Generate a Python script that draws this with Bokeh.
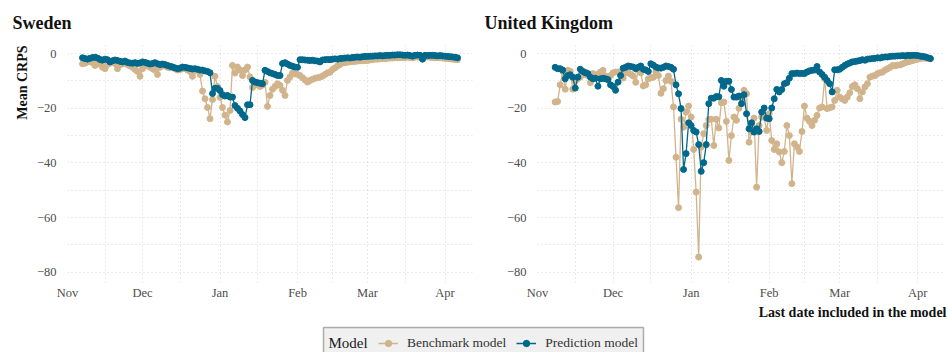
import pandas as pd
from bokeh.plotting import figure
from bokeh.layouts import column, row
from bokeh.models import (FixedTicker, DatetimeTickFormatter, Range1d, Title,
                          Legend, LegendItem, ColumnDataSource, BoxAnnotation,
                          Label)
from bokeh.embed import file_html
from bokeh.resources import INLINE

FONT = "Liberation Serif"
BENCH_COLOR = "#d2b48c"
PRED_COLOR = "#00688b"
INK = "#111111"

# ---- data: mean CRPS by last date included in the model ----
sweden_start = "2020-11-07"
sweden_benchmark = [
    -3.7, -3.5, -3.0, -2.8, -3.3, -4.3, -3.8, -3.2, -5.0, -5.5,
    -4.0, -3.5, -3.0, -3.6, -5.5, -4.0, -3.8, -3.2, -4.0, -4.5,
    -5.0, -5.8, -6.5, -8.3, -5.5, -4.5, -4.0, -5.0, -5.5, -6.0,
    -7.6, -5.0, -4.2, -4.5, -5.0, -5.2, -4.8, -5.5, -6.0, -5.8,
    -5.5, -5.4, -6.0, -6.5, -8.3, -6.2, -5.8, -7.6, -13.7, -16.5,
    -19.7, -23.8, -16.8, -8.3, -12.0, -16.0, -19.7, -22.5, -25.0, -20.8,
    -4.3, -7.1, -4.9, -6.0, -8.0, -6.0, -4.9, -8.5, -12.4, -11.5,
    -11.0, -12.0, -11.5, -10.5, -19.3, -15.3, -13.0, -12.0, -11.0, -11.6,
    -13.4, -15.3, -9.8, -8.5, -7.1, -7.4, -7.6, -8.0, -8.8, -9.6,
    -10.4, -9.8, -9.4, -9.0, -8.8, -8.6, -8.2, -7.6, -7.0, -6.8,
    -5.8, -5.2, -4.5, -4.0, -3.4, -3.3, -3.1, -3.0, -2.9, -2.8,
    -2.7, -2.6, -2.6, -2.5, -2.5, -2.3, -2.2, -2.0, -2.0, -1.9,
    -1.8, -1.8, -1.7, -1.6, -1.6, -1.5, -1.5, -1.5, -1.4, -1.4,
    -1.3, -1.4, -1.5, -1.3, -1.2, -1.3, -1.4, -1.3, -1.2, -1.3,
    -1.4, -1.5, -1.4, -1.5, -1.6, -1.7, -1.8, -1.9, -2.0, -2.1,
    -2.2,
]
sweden_prediction = [
    -1.5, -1.8, -2.0, -1.7, -1.4, -1.3, -1.6, -2.1, -2.4, -2.0,
    -2.2, -3.0, -2.6, -2.3, -2.5, -2.8, -3.0, -2.7, -3.2, -3.4,
    -3.5, -3.3, -3.6, -3.4, -3.0, -3.2, -3.5, -3.8, -3.6, -3.3,
    -3.7, -4.0, -3.8, -4.0, -4.3, -4.6, -4.9, -5.2, -5.5, -5.3,
    -4.9, -5.0, -5.2, -5.4, -5.6, -5.5, -5.7, -6.0, -6.0, -6.3,
    -6.5, -7.0, -14.6, -12.7, -12.7, -13.5, -15.0, -15.5, -15.3, -15.9,
    -15.9, -19.0, -20.0, -21.0, -22.3, -23.4, -18.7, -18.7, -9.8, -10.4,
    -10.6, -10.8, -11.0, -6.1, -6.5, -7.0, -7.3, -7.6, -8.0, -8.0,
    -3.6, -3.3, -3.8, -4.3, -4.6, -4.9, -5.0, -2.2, -2.2, -2.3,
    -2.4, -2.5, -2.4, -2.6, -2.7, -3.0, -2.3, -2.2, -2.1, -2.2,
    -2.0, -1.9, -2.0, -1.8, -1.7, -1.6, -1.5, -1.6, -1.4, -1.3,
    -1.2, -1.3, -1.1, -1.0, -1.0, -0.9, -0.9, -0.8, -0.8, -0.7,
    -0.8, -0.7, -0.6, -0.6, -0.5, -0.5, -0.4, -0.4, -0.5, -0.6,
    -0.5, -0.7, -0.9, -0.6, -0.5, -0.6, -2.0, -0.6, -0.7, -0.6,
    -0.6, -0.7, -0.8, -0.7, -0.8, -0.9, -1.0, -1.1, -1.2, -1.3,
    -1.5,
]

uk_start = "2020-11-08"
uk_benchmark = [
    -17.7, -17.5, -11.4, -6.5, -13.0, -6.1, -6.5, -13.0, -10.1, -9.2,
    -8.5, -7.7, -6.7, -8.0, -10.6, -7.3, -8.2, -7.5, -6.7, -6.1,
    -8.2, -8.6, -8.0, -7.0, -6.7, -6.7, -7.5, -8.9, -7.0, -7.0,
    -7.5, -8.2, -10.5, -6.1, -7.0, -11.8, -11.4, -9.2, -8.8, -8.6,
    -6.7, -8.0, -14.5, -12.8, -9.8, -8.2, -10.1, -19.5, -37.9, -56.4,
    -24.0, -26.9, -21.4, -19.2, -23.2, -35.1, -50.7, -74.5, -34.2, -29.3,
    -26.3, -24.1, -24.0, -33.6, -24.0, -27.2, -18.0, -17.7, -24.8, -39.1,
    -30.0, -23.2, -24.4, -20.0, -16.5, -13.4, -14.7, -32.4, -28.7, -23.6,
    -48.9, -26.3, -23.2, -23.3, -28.1, -22.0, -31.8, -35.1, -33.0, -36.0,
    -39.9, -35.8, -26.3, -30.0, -47.6, -33.0, -34.2, -35.8, -28.5, -19.2,
    -23.6, -24.8, -26.3, -24.4, -22.6, -19.9, -19.5, -9.2, -20.1, -19.8,
    -19.5, -17.1, -13.4, -15.9, -16.5, -17.1, -15.9, -14.3, -12.0, -11.4,
    -12.8, -16.5, -14.0, -12.2, -11.0, -8.6, -8.2, -8.0, -7.3, -7.0,
    -6.7, -6.0, -5.5, -5.0, -4.3, -4.4, -4.2, -4.1, -3.7, -3.3,
    -3.0, -2.8, -2.5, -2.2, -2.0, -1.8, -1.6, -1.7, -1.7, -1.8,
]
uk_prediction = [
    -5.0, -5.5, -5.5, -6.0, -9.2, -8.0, -7.7, -8.6, -12.6, -8.6,
    -5.7, -6.5, -7.0, -7.3, -8.6, -9.2, -9.0, -11.9, -9.2, -9.0,
    -9.2, -9.5, -11.4, -12.0, -13.4, -10.4, -8.0, -5.3, -5.0, -4.5,
    -4.7, -4.9, -5.5, -5.0, -4.5, -5.7, -6.0, -6.5, -3.7, -4.2,
    -4.9, -5.2, -5.3, -5.0, -4.5, -4.7, -5.0, -5.7, -11.4, -14.7,
    -20.1, -42.4, -36.6, -25.3, -26.3, -28.1, -28.7, -33.3, -43.1, -39.9,
    -33.3, -18.3, -16.3, -16.3, -15.7, -15.8, -9.8, -11.9, -10.1, -10.1,
    -13.1, -15.9, -15.9, -15.5, -18.3, -15.0, -22.0, -27.5, -25.3, -28.7,
    -27.5, -28.5, -21.4, -19.9, -23.6, -23.8, -19.9, -16.5, -13.1, -14.0,
    -13.1, -11.0, -10.6, -9.0, -7.3, -7.3, -7.1, -7.3, -7.2, -7.3,
    -6.7, -6.3, -6.1, -6.0, -4.7, -6.7, -7.6, -8.6, -9.8, -11.0,
    -14.0, -5.9, -5.9, -5.7, -5.0, -4.3, -3.8, -3.4, -3.0, -2.9,
    -2.7, -2.5, -2.2, -2.4, -2.0, -1.9, -1.8, -1.7, -1.5, -1.6,
    -1.3, -1.2, -1.2, -1.0, -0.9, -0.9, -0.8, -0.8, -0.7, -0.8,
    -0.6, -0.7, -0.6, -0.6, -0.7, -0.9, -1.0, -1.2, -1.5, -1.8,
]

month_starts = ["2020-11-01", "2020-12-01", "2021-01-01", "2021-02-01",
                "2021-03-01", "2021-04-01"]
month_mids = ["2020-11-16", "2020-12-16", "2021-01-16", "2021-02-15",
              "2021-03-16"]
x_limits = ["2020-11-01", "2021-04-12"]
y_ticks = [-80, -60, -40, -20, 0]
y_minor = [-70, -50, -30, -10]
y_limits = [-83.8, 3.0]


def ms(d):
    return int(pd.Timestamp(d).value // 10**6)


def strip(height):
    """A blank full-width strip where one data unit equals one pixel."""
    s = figure(width=948, height=height, output_backend="svg",
               toolbar_location=None, title_location=None,
               x_range=Range1d(0, 948), y_range=Range1d(0, height),
               x_axis_location=None, y_axis_location=None, min_border=0)
    s.outline_line_color = None
    s.grid.visible = False
    return s


def panel(start, bench, pred, left, right):
    p = figure(width=474, height=264, x_axis_type="datetime",
               x_range=Range1d(ms(x_limits[0]), ms(x_limits[1])),
               y_range=Range1d(*y_limits), title_location=None,
               output_backend="svg", toolbar_location=None,
               min_border_left=left, min_border_right=right,
               min_border_top=5, min_border_bottom=22)
    p.outline_line_color = None

    p.xaxis.ticker = FixedTicker(ticks=[ms(d) for d in month_starts],
                                 minor_ticks=[ms(d) for d in month_mids])
    fmt = "%b"
    p.xaxis.formatter = DatetimeTickFormatter(
        milliseconds=fmt, seconds=fmt, minsec=fmt, minutes=fmt, hourmin=fmt,
        hours=fmt, days=fmt, months=fmt, years=fmt)
    p.yaxis.ticker = FixedTicker(ticks=y_ticks, minor_ticks=y_minor)
    p.yaxis.major_label_overrides = {
        v: (str(v).replace("-", "\u2212")) for v in y_ticks}

    for ax in (p.xaxis, p.yaxis):
        ax.axis_line_color = None
        ax.major_tick_line_color = None
        ax.minor_tick_line_color = None
        ax.major_label_text_font = FONT
        ax.major_label_text_font_size = "12.5px"
        ax.major_label_text_color = "#4d4d4d"
        ax.major_label_standoff = 5
    p.xaxis.major_label_standoff = -3

    for g in (p.xgrid, p.ygrid):
        g.grid_line_color = "#d4d4d4"
        g.grid_line_dash = "1 3"
        g.grid_line_width = 1
        g.minor_grid_line_color = "#d4d4d4"
        g.minor_grid_line_dash = "1 3"
        g.minor_grid_line_width = 1

    src_b = ColumnDataSource(dict(
        x=pd.date_range(start, periods=len(bench), freq="D"), y=bench))
    src_p = ColumnDataSource(dict(
        x=pd.date_range(start, periods=len(pred), freq="D"), y=pred))
    p.line("x", "y", source=src_b, color=BENCH_COLOR, line_width=1.3)
    p.scatter("x", "y", source=src_b, color=BENCH_COLOR, size=6)
    p.line("x", "y", source=src_p, color=PRED_COLOR, line_width=1.3)
    p.scatter("x", "y", source=src_p, color=PRED_COLOR, size=6)
    return p


# ---- panel titles ----
top = strip(40)
for x, name in [(12, "Sweden"), (484, "United Kingdom")]:
    top.add_layout(Label(x=x, y=18, text=name, text_baseline="middle",
                         text_font=FONT, text_font_size="18px",
                         text_font_style="bold", text_color=INK))

# ---- panels ----
p_se = panel(sweden_start, sweden_benchmark, sweden_prediction, 67, 2)
p_se.add_layout(Title(text="Mean CRPS", align="right", offset=0,
                      text_font=FONT, text_font_size="14px",
                      text_font_style="bold", text_color=INK,
                      standoff=8), "left")
p_uk = panel(uk_start, uk_benchmark, uk_prediction, 63, 3)

# ---- x label and shared legend ----
bottom = strip(48)
bottom.add_layout(Label(x=946, y=40, text="Last date included in the model",
                        text_align="right", text_baseline="middle",
                        text_font=FONT, text_font_size="14px",
                        text_font_style="bold", text_color=INK))
bottom.add_layout(BoxAnnotation(left=323, right=643, bottom=-6, top=25,
                                fill_color="#f0f0f0", fill_alpha=1,
                                line_color="black", line_width=1.5))
bottom.add_layout(Label(x=328, y=10, text="Model", text_baseline="middle",
                        text_font=FONT, text_font_size="15px",
                        text_color="#1a1a1a"))
# key renderers sit outside the visible strip; only their legend keys show
off_x, off_y = [-50, -40], [-50, -50]
bl = bottom.line(x=off_x, y=off_y, color=BENCH_COLOR, line_width=1.5)
bs = bottom.scatter(x=off_x, y=off_y, color=BENCH_COLOR, size=6)
pl = bottom.line(x=off_x, y=off_y, color=PRED_COLOR, line_width=1.5)
ps = bottom.scatter(x=off_x, y=off_y, color=PRED_COLOR, size=6)
legend = Legend(
    items=[LegendItem(label="Benchmark model", renderers=[bl, bs]),
           LegendItem(label="Prediction model", renderers=[pl, ps])],
    orientation="horizontal", location=(378, 0),
    label_text_font=FONT, label_text_font_size="13.5px",
    label_text_color="#333333",
    border_line_color=None, background_fill_alpha=0,
    glyph_width=20, glyph_height=16, label_standoff=9, spacing=10,
    padding=5, margin=0, label_height=18)
bottom.add_layout(legend)

layout = column(top, row(p_se, p_uk), bottom)
open("out.html", "w").write(file_html(layout, INLINE))
